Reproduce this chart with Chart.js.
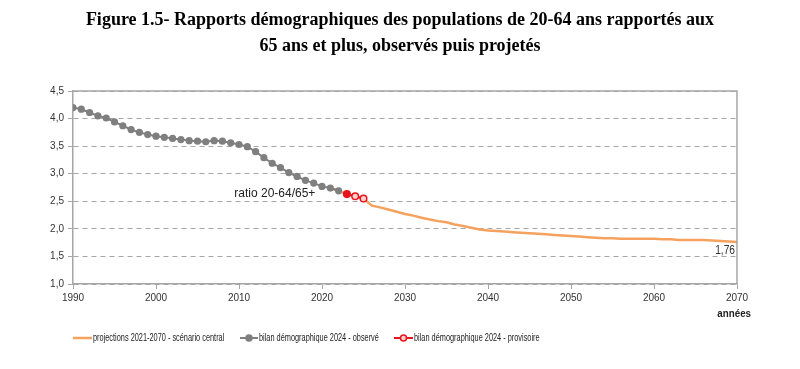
<!DOCTYPE html>
<html><head><meta charset="utf-8">
<script src="https://cdn.jsdelivr.net/npm/chart.js@4.4.1/dist/chart.umd.min.js"></script>
<style>html,body{margin:0;padding:0;background:#fff;}#wrap{width:800px;height:369px;}</style>
</head><body><div id="wrap"><canvas id="c" width="800" height="369"></canvas></div>
<script>
const titleLines = ['Figure 1.5- Rapports démographiques des populations de 20-64 ans rapportés aux', '65 ans et plus, observés puis projetés'];
const seriesNames = ['projections 2021-2070 - scénario central', 'bilan démographique 2024 - observé', 'bilan démographique 2024 - provisoire'];
const yearsObserved = [1990,1991,1992,1993,1994,1995,1996,1997,1998,1999,2000,2001,2002,2003,2004,2005,2006,2007,2008,2009,2010,2011,2012,2013,2014,2015,2016,2017,2018,2019,2020,2021,2022];
const valuesObserved = [4.20,4.17,4.11,4.05,4.01,3.94,3.87,3.80,3.75,3.71,3.68,3.66,3.64,3.62,3.60,3.59,3.58,3.60,3.59,3.56,3.53,3.49,3.40,3.29,3.19,3.11,3.02,2.95,2.88,2.83,2.77,2.74,2.69];
const yearsProvisional = [2023,2024,2025];
const valuesProvisional = [2.63,2.59,2.55];
const yearsProjection = [2021,2022,2023,2024,2025,2026,2027,2028,2029,2030,2031,2032,2033,2034,2035,2036,2037,2038,2039,2040,2041,2042,2043,2044,2045,2046,2047,2048,2049,2050,2051,2052,2053,2054,2055,2056,2057,2058,2059,2060,2061,2062,2063,2064,2065,2066,2067,2068,2069,2070];
const valuesProjection = [2.74,2.69,2.63,2.59,2.55,2.42,2.39,2.35,2.31,2.27,2.24,2.20,2.17,2.14,2.12,2.08,2.05,2.02,1.99,1.97,1.96,1.95,1.94,1.93,1.92,1.91,1.90,1.89,1.88,1.87,1.86,1.85,1.84,1.83,1.83,1.82,1.82,1.82,1.82,1.82,1.81,1.81,1.80,1.80,1.80,1.80,1.79,1.78,1.77,1.76];
const xTicks = [1990,2000,2010,2020,2030,2040,2050,2060,2070];
const yTicks = [1.0,1.5,2.0,2.5,3.0,3.5,4.0,4.5];
const seriesLabel = 'ratio 20-64/65+';
const endLabel = '1,76';
const xAxisTitle = 'années';

const toPts = (xs, ys) => xs.map((x, i) => ({x: x, y: ys[i]}));
const C_ORANGE = '#F5A25E', C_GRAY = '#7F7F7F', C_RED = '#E8141C', C_AXIS = '#A6A6A6';
const SANS = '"Liberation Sans", Arial, sans-serif';

function narrowText(ctx, text, x, y, align, sq) {
  const w = ctx.measureText(text).width * sq;
  let left = x;
  if (align === 'right') left = x - w; else if (align === 'center') left = x - w / 2;
  ctx.save();
  ctx.translate(left, y);
  ctx.scale(sq, 1);
  ctx.textAlign = 'left';
  ctx.fillText(text, 0, 0);
  ctx.restore();
  return w;
}

const decorPlugin = {
  id: 'decor',
  afterDraw(chart) {
    const ctx = chart.ctx, a = chart.chartArea, xs = chart.scales.x, ys = chart.scales.y;
    ctx.save();
    // title
    ctx.fillStyle = '#000';
    ctx.font = 'bold 18px "Liberation Serif", "Times New Roman", serif';
    ctx.textAlign = 'center'; ctx.textBaseline = 'middle';
    ctx.fillText(titleLines[0], 400, 20);
    ctx.fillText(titleLines[1], 400, 46);
    // frame top and right
    ctx.strokeStyle = C_AXIS; ctx.lineWidth = 1.5; ctx.setLineDash([]);
    ctx.beginPath();
    ctx.moveTo(a.left, a.top); ctx.lineTo(a.right, a.top); ctx.lineTo(a.right, a.bottom);
    ctx.stroke();
    // annotation label
    ctx.fillStyle = '#222';
    ctx.font = '12px ' + SANS;
    ctx.textAlign = 'right'; ctx.textBaseline = 'middle';
    ctx.fillText(seriesLabel, xs.getPixelForValue(2019.2), ys.getPixelForValue(2.63));
    ctx.fillStyle = '#333';
    ctx.font = '12px ' + SANS;
    narrowText(ctx, endLabel, a.right - 2, ys.getPixelForValue(1.61), 'right', 0.85);
    ctx.font = 'bold 11.5px ' + SANS;
    ctx.fillStyle = '#222';
    narrowText(ctx, xAxisTitle, 751, 314, 'right', 0.85);
    // legend
    const ds = chart.data.datasets;
    const items = [
      {ds: ds[0], x0: 73, x1: 92},
      {ds: ds[1], x0: 240, x1: 258},
      {ds: ds[2], x0: 394, x1: 413}
    ];
    const ly = 338;
    ctx.font = '11.5px ' + SANS;
    items.forEach(it => {
      ctx.strokeStyle = it.ds.borderColor; ctx.lineWidth = it.ds.borderWidth;
      ctx.beginPath(); ctx.moveTo(it.x0, ly); ctx.lineTo(it.x1, ly); ctx.stroke();
      if (it.ds.pointRadius > 0) {
        ctx.beginPath(); ctx.arc((it.x0 + it.x1) / 2, ly, 3, 0, Math.PI * 2);
        ctx.fillStyle = it.ds.legendFill; ctx.fill();
        ctx.lineWidth = 1.5; ctx.strokeStyle = it.ds.pointBorderColor; ctx.stroke();
      }
      ctx.fillStyle = '#222';
      narrowText(ctx, it.ds.label, it.x1 + 1, ly, 'left', 0.64);
    });
    ctx.restore();
  }
};

new Chart(document.getElementById('c'), {
  type: 'line',
  data: {
    datasets: [
      {label: seriesNames[0], data: toPts(yearsProjection, valuesProjection), borderColor: C_ORANGE, borderWidth: 2.5, pointRadius: 0, tension: 0, order: 3},
      {label: seriesNames[1], data: toPts(yearsObserved, valuesObserved), borderColor: C_GRAY, borderWidth: 2, pointRadius: 3.6, pointBackgroundColor: C_GRAY, pointBorderColor: C_GRAY, pointBorderWidth: 0, legendFill: C_GRAY, order: 2},
      {label: seriesNames[2], data: toPts(yearsProvisional, valuesProvisional), borderColor: C_RED, borderWidth: 2, pointRadius: 3.3, pointBackgroundColor: ['#E8141C', '#FBD0D0', '#FBD0D0'], pointBorderColor: C_RED, pointBorderWidth: 1.5, legendFill: '#FBD0D0', order: 1}
    ]
  },
  options: {
    responsive: false,
    animation: false,
    layout: {padding: {left: 0, right: 63, top: 91, bottom: 0}},
    plugins: {
      legend: {display: false},
      tooltip: {enabled: false},
      title: {display: false}
    },
    scales: {
      x: {
        type: 'linear', min: 1990, max: 2070,
        afterBuildTicks: s => { s.ticks = xTicks.map(v => ({value: v})); },
        afterFit: s => { s.height = 85; },
        grid: {drawOnChartArea: false, drawTicks: true, tickLength: 5, color: C_AXIS, lineWidth: 1},
        border: {color: C_AXIS, width: 1.5},
        ticks: {color: '#333', font: {family: SANS, size: 10}, padding: 3, maxRotation: 0, callback: v => String(v)}
      },
      y: {
        min: 1, max: 4.5,
        afterBuildTicks: s => { s.ticks = yTicks.map(v => ({value: v})); },
        afterFit: s => { s.width = 73; },
        grid: {color: '#A6A6A6', lineWidth: 1, drawTicks: true, tickLength: 5},
        border: {color: C_AXIS, width: 1.5, dash: [5, 4]},
        ticks: {color: '#333', font: {family: SANS, size: 10}, padding: 4, callback: v => v.toFixed(1).replace('.', ',')}
      }
    }
  },
  plugins: [decorPlugin]
});
</script></body></html>
